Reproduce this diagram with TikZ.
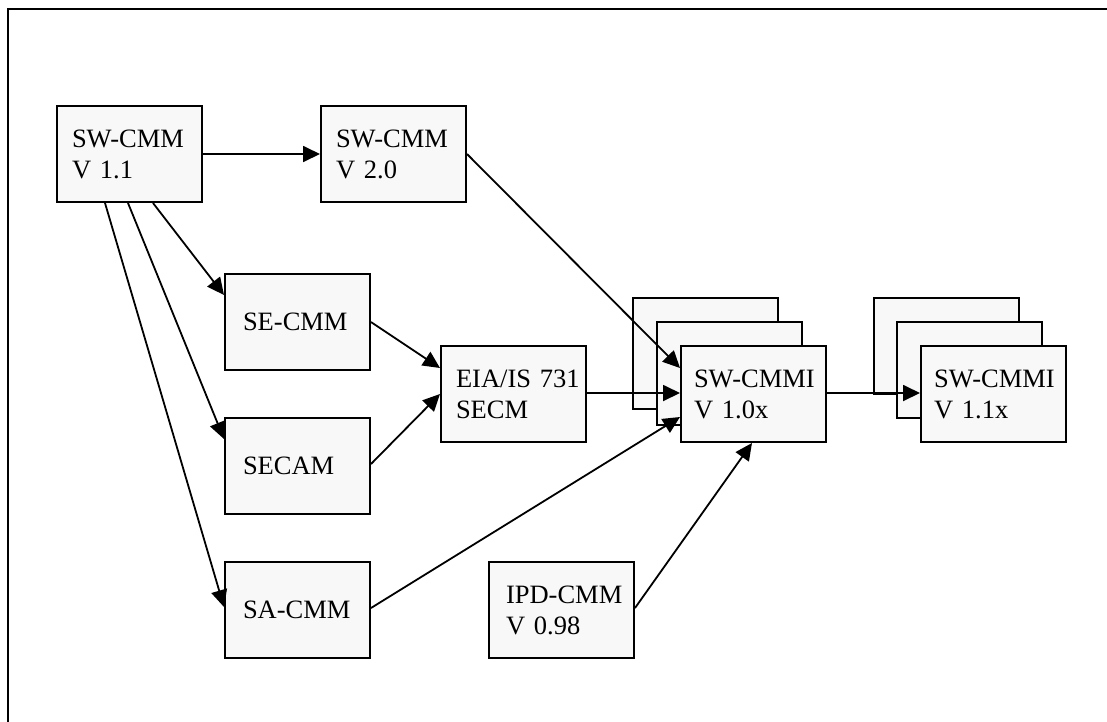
\documentclass[tikz,border=0pt]{standalone}
\usepackage{fontspec}
\setmainfont{Liberation Serif}
\usetikzlibrary{arrows.meta,calc}
\definecolor{boxfill}{RGB}{248,248,248}
\tikzset{
  box/.style 2 args={draw, line width=2pt, fill=boxfill, anchor=north west,
    minimum width=145pt, minimum height=96pt, inner ysep=0pt,
    inner xsep=#1, text width=#2, align=left,
    font=\fontsize{26.5pt}{31pt}\selectfont},
  sheet/.style 2 args={draw, line width=2pt, fill=boxfill, anchor=north west,
    minimum width=145pt, minimum height=#2, inner sep=0pt},
  link/.style={line width=1.8pt, -{Triangle[length=17pt,width=16pt]}},
}
\begin{document}
\begin{tikzpicture}[x=1pt,y=-1pt]
\useasboundingbox (0,0) rectangle (1107,721);
\clip (0,0) rectangle (1107,721);
% outer frame
\draw[line width=2.4pt] (8,9) rectangle (1140,760);

% sources
\node[box={15pt}{115pt}] (v11) at (56,105) {\mbox{SW-CMM}\\\mbox{V 1.1}};
\node[box={15pt}{115pt}] (v20) at (320,105) {\mbox{SW-CMM}\\\mbox{V 2.0}};
\node[box={18pt}{109pt}] (secmm) at (224,273) {\mbox{SE-CMM}};
\node[box={18pt}{109pt}] (secam) at (224,417) {\mbox{SECAM}};
\node[box={18pt}{109pt}] (sacmm) at (224,561) {\mbox{SA-CMM}};
\node[box={15pt}{115pt}] (eia) at (440,345) {\mbox{EIA/IS 731}\\\mbox{SECM}};
\node[box={17pt}{111pt}] (ipd) at (488,561) {\mbox{IPD-CMM}\\\mbox{V 0.98}};

% SW-CMMI V1.0x stack
\node[sheet={145pt}{111pt}] (cmmi10b) at (632,297) {};
\node[sheet={145pt}{103pt}] (cmmi10m) at (656,321) {};
\node[box={13pt}{119pt}] (cmmi10) at (680,345) {\mbox{SW-CMMI}\\\mbox{V 1.0x}};

% SW-CMMI V1.1x stack
\node[sheet={145pt}{96pt}] (cmmi11b) at (873,297) {};
\node[sheet={145pt}{96pt}] (cmmi11m) at (896,321) {};
\node[box={13pt}{119pt}] (cmmi11) at (920,345) {\mbox{SW-CMMI}\\\mbox{V 1.1x}};

% connectors
\draw[link] (v11.east) -- (v20.west);
\draw[link] (v20.east) -- ($(cmmi10.north west)+(0,23)$);
\draw[link] ($(v11.south west)+(49,0)$) -- ($(sacmm.north west)+(0,46)$);
\draw[link] ($(v11.south west)+(72,0)$) -- ($(secam.north west)+(0,22)$);
\draw[link] ($(v11.south west)+(97,0)$) -- ($(secmm.north west)+(0,22)$);
\draw[link] ($(secmm.north east)+(0,49)$) -- ($(eia.north west)+(0,23)$);
\draw[link] ($(secam.north east)+(0,47)$) -- ($(eia.north west)+(0,49)$);
\draw[link] ($(eia.north east)+(0,48)$) -- ($(cmmi10.north west)+(0,48)$);
\draw[link] ($(sacmm.north east)+(0,47)$) -- ($(cmmi10.north west)+(0,72)$);
\draw[link] ($(ipd.north east)+(0,47)$) -- ($(cmmi10.south west)+(72,0)$);
\draw[link] ($(cmmi10.north east)+(0,48)$) -- ($(cmmi11.north west)+(0,48)$);
\end{tikzpicture}
\end{document}
